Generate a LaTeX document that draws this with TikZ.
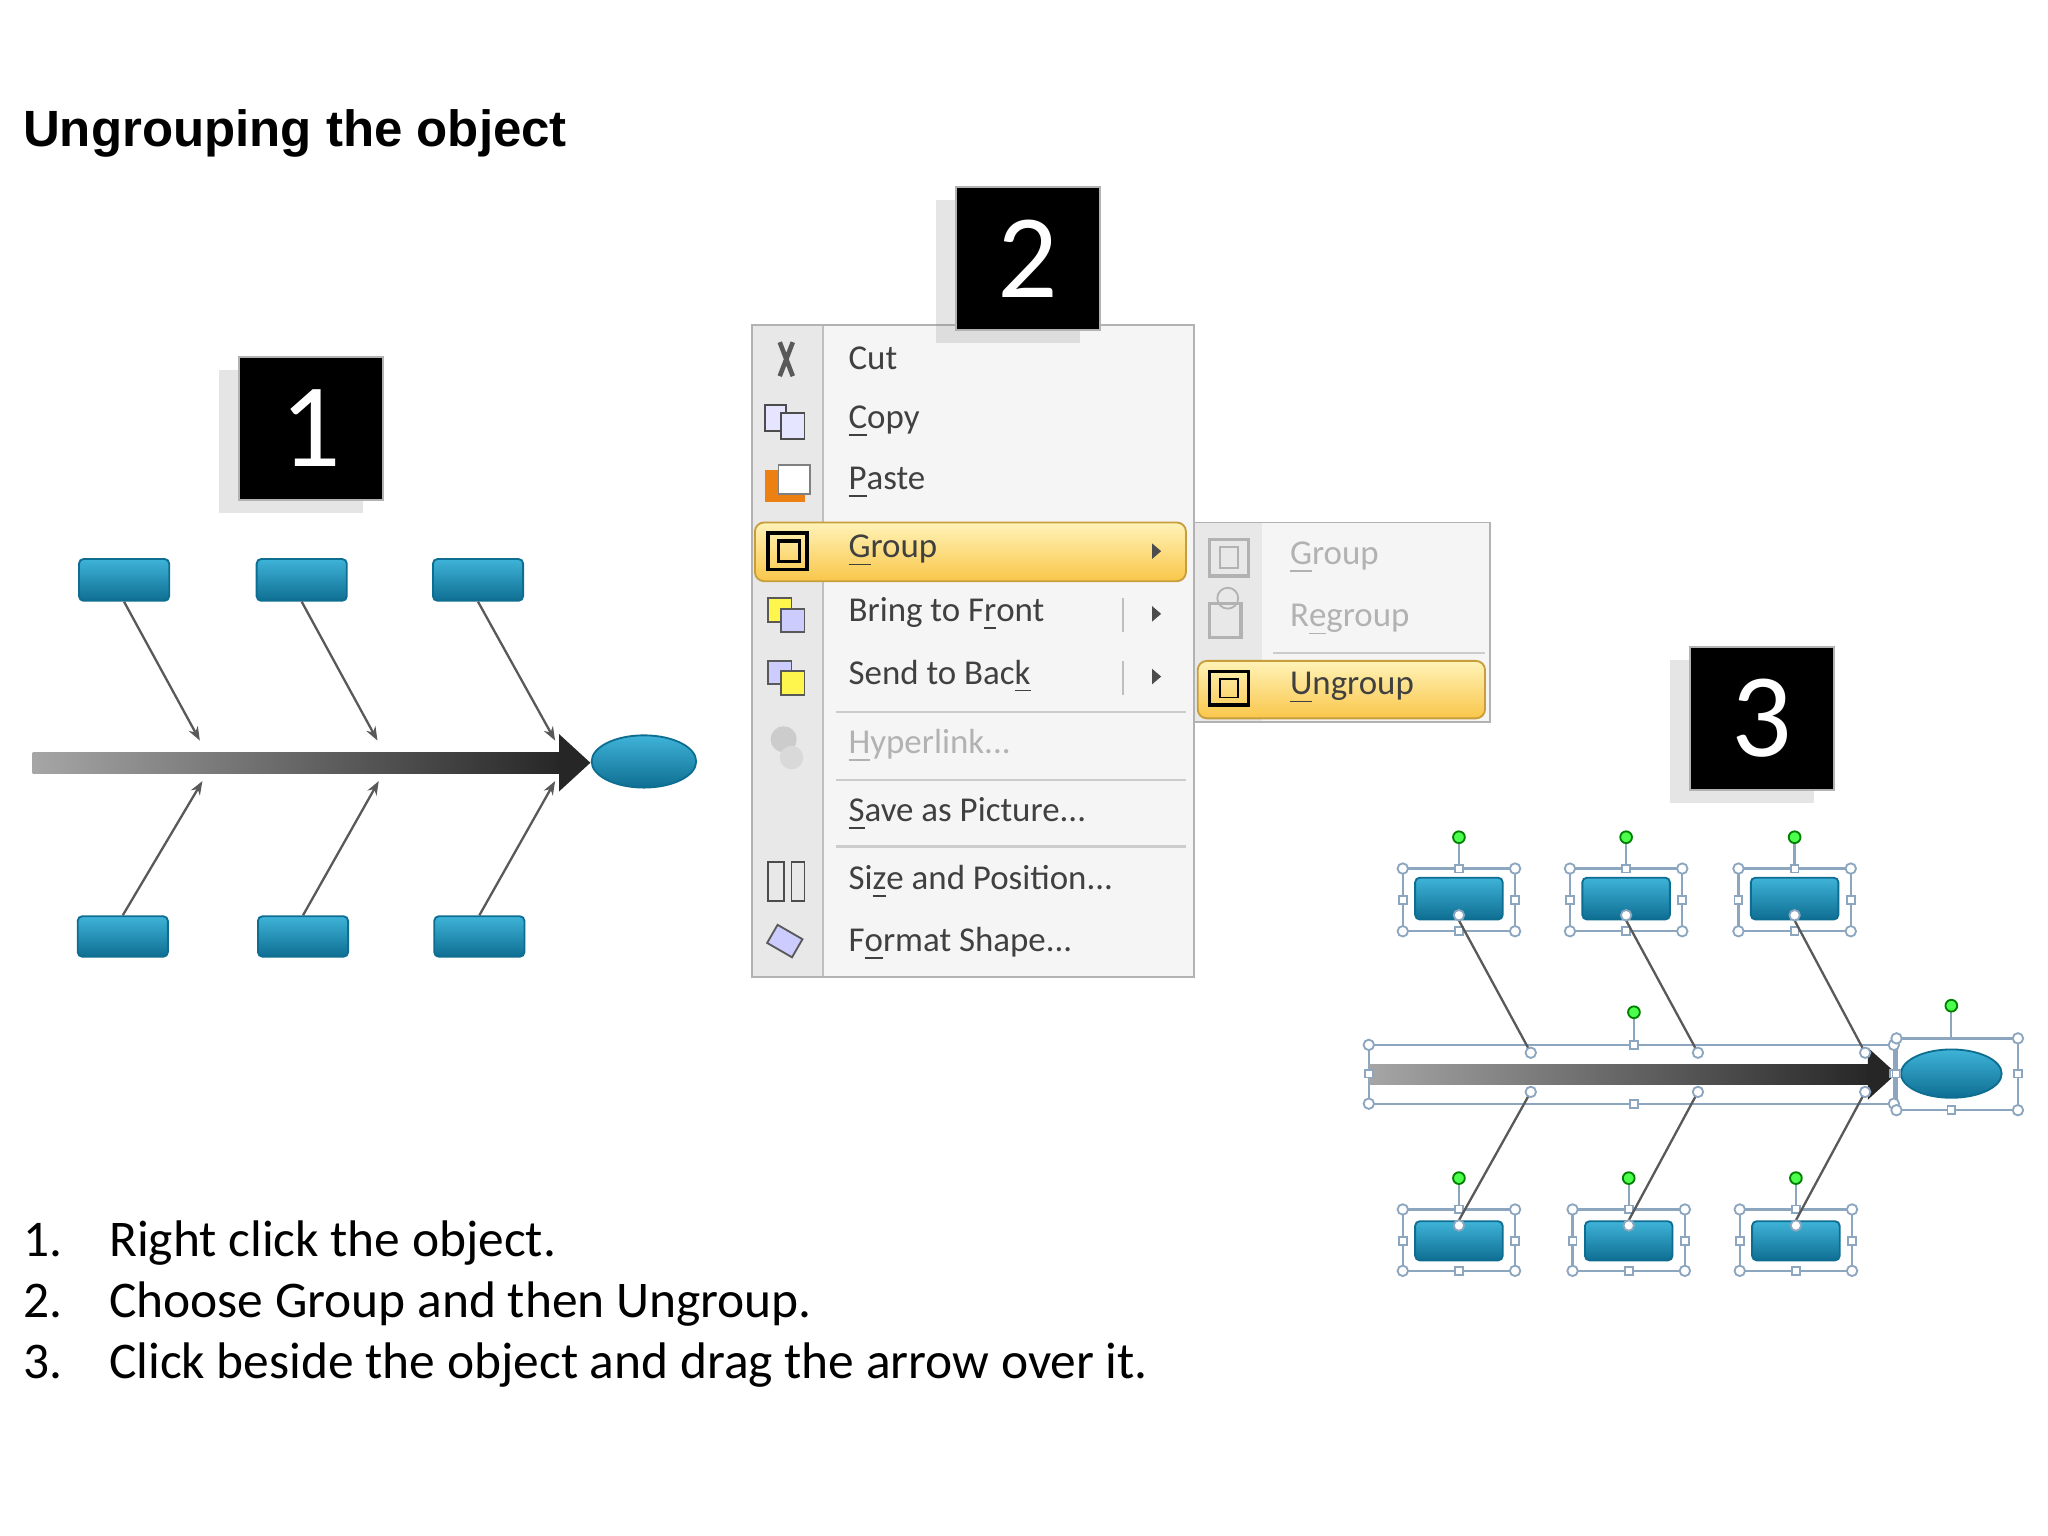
\documentclass[tikz,border=0pt]{standalone}
\usepackage{fontspec}
\setmainfont{Carlito}
\newfontfamily\hv{Liberation Sans}
\usetikzlibrary{shadows,arrows.meta,shapes.geometric}
\definecolor{boxtop}{HTML}{3FB3D8}
\definecolor{boxbot}{HTML}{0E6E92}
\definecolor{hi1}{HTML}{FFF3B8}
\definecolor{hi2}{HTML}{F9C64A}
\definecolor{selc}{HTML}{8CA6C0}
\tikzset{
 numbox/.style={fill=black,draw=gray!60,text=white,minimum width=1.1cm,minimum height=1.09cm,font=\fontsize{26}{26}\selectfont,inner sep=0,drop shadow={shadow xshift=-0.15cm,shadow yshift=-0.1cm,opacity=0.2,fill=gray}},
 bluebox/.style={draw=boxbot,rounded corners=1pt,top color=boxtop,bottom color=boxbot,inner sep=0},
 fline/.style={draw=gray!70!black,line width=0.5pt,-{Stealth[length=3pt]}},
 mitem/.style={anchor=west,font=\fontsize{7.6}{9}\selectfont,text=black!75,inner sep=0},
 gitem/.style={mitem,text=gray!60},
 sel/.style={draw=selc,line width=0.5pt},
 hd/.style={draw=selc,fill=white,line width=0.4pt,inner sep=0,minimum size=0.06cm},
 hdc/.style={circle,draw=selc,fill=white,line width=0.4pt,inner sep=0,minimum size=0.08cm},
 grn/.style={circle,draw=green!50!black,fill=green!70,inner sep=0,minimum size=0.09cm},
 sep/.style={draw=gray!40,line width=0.5pt},
}
\begin{document}
\begin{tikzpicture}[x=0.01cm,y=-0.01cm]
\useasboundingbox (0,0) rectangle (1568,1176);
\fill[white] (0,0) rectangle (1568,1176);
\node[anchor=west,inner sep=0,font=\hv\bfseries\fontsize{11.1}{13}\selectfont] (title) at (17,102) {Ungrouping the object};
% ---------- fishbone 1
\shade[left color=gray!70,right color=black!85] (25,576) rectangle (430,592);
\fill[black!85] (428,562) -- (452,584) -- (428,606) -- cycle;
\node[ellipse,minimum width=0.8cm,minimum height=0.4cm,top color=boxtop,bottom color=boxbot,draw=boxbot,inner sep=0] (e1) at (493,583) {};
\foreach \n/\x in {a/95,b/231,c/366}{
 \node[bluebox,minimum width=0.69cm,minimum height=0.32cm] (t\n) at (\x,444) {};}
\foreach \n/\x in {a/94,b/232,c/367}{
 \node[bluebox,minimum width=0.69cm,minimum height=0.31cm] (b\n) at (\x,717) {};}
\coordinate (ta1) at (153,567); \coordinate (tb1) at (289,567); \coordinate (tc1) at (425,567);
\coordinate (ba1) at (155,598); \coordinate (bb1) at (290,598); \coordinate (bc1) at (425,598);
\draw[fline] (ta.south) -- (ta1); \draw[fline] (tb.south) -- (tb1); \draw[fline] (tc.south) -- (tc1);
\draw[fline] (ba.north) -- (ba1); \draw[fline] (bb.north) -- (bb1); \draw[fline] (bc.north) -- (bc1);
\node[numbox] (n1) at (238,328) {1};
% ---------- menu
\fill[gray!8] (576,249) rectangle (914,748);
\fill[gray!18] (576,249) rectangle (630,748);
\draw[gray!50] (630,249) -- (630,748);
\draw[gray!60] (576,249) rectangle (914,748);
\shade[top color=hi1,bottom color=hi2,draw=hi2!80!black,rounded corners=2pt] (578,400) rectangle (908,445);
\node[numbox] (n2) at (787,198) {2};
\node[mitem] (m1) at (649,274) {Cut};
\node[mitem] (m2) at (649,323) {\underline{C}opy};
\node[mitem] (m3) at (649,370) {\underline{P}aste};
\node[mitem] (m4) at (649,422) {\underline{G}roup};
\node[mitem] (m5) at (649,470) {Bring to F\underline{r}ont};
\node[mitem] (m6) at (649,518) {Send to Bac\underline{k}};
\node[gitem] (m7) at (649,571) {\underline{H}yperlink...};
\node[mitem] (m8) at (649,623) {\underline{S}ave as Picture...};
\node[mitem] (m9) at (649,675) {Si\underline{z}e and Position...};
\node[mitem] (m10) at (649,723) {F\underline{o}rmat Shape...};
\foreach \y in {422,470,518} \fill[black!70] (882,\y-6) -- (889,\y) -- (882,\y+6) -- cycle;
\draw[gray!50] (860,458) -- (860,484); \draw[gray!50] (860,506) -- (860,532);
\draw[sep] (640,545) -- (908,545); \draw[sep] (640,597) -- (908,597); \draw[sep] (640,648) -- (908,648);
% icons
\draw[gray!70!black,line width=1pt] (597,262) -- (607,288) (607,262) -- (597,288);
\draw[gray!60!black,fill=blue!10] (586,310) rectangle (602,330); \draw[gray!60!black,fill=blue!10] (598,316) rectangle (616,336);
\fill[orange!70!brown] (586,360) rectangle (616,384); \fill[white,draw=gray] (596,356) rectangle (620,378);
\draw[black,line width=0.8pt] (588,408) rectangle (618,436); \draw[black,line width=0.8pt] (596,414) rectangle (612,430);
\draw[gray!70!black,fill=yellow!70] (588,458) rectangle (606,476); \draw[gray!70!black,fill=blue!20] (598,466) rectangle (616,484);
\draw[gray!70!black,fill=blue!20] (588,506) rectangle (606,524); \draw[gray!70!black,fill=yellow!70] (598,514) rectangle (616,532);
\fill[gray!40] (600,566) circle (10); \fill[gray!30] (606,580) circle (9);
\draw[black!70] (588,660) rectangle (600,690); \draw[black!70] (606,660) rectangle (616,690);
\draw[gray!70!black,fill=blue!20,rotate around={-30:(600,720)}] (590,712) rectangle (612,728);
% submenu
\fill[gray!8] (914,400) rectangle (1141,553);
\fill[gray!18] (914,400) rectangle (966,553);
\draw[gray!60] (914,400) rectangle (1141,553);
\shade[top color=hi1,bottom color=hi2,draw=hi2!80!black,rounded corners=2pt] (917,506) rectangle (1137,550);
\draw[sep] (975,500) -- (1137,500);
\node[gitem] (s1) at (987,427) {\underline{G}roup};
\node[gitem] (s2) at (987,475) {R\underline{e}group};
\node[mitem] (s3) at (987,527) {\underline{U}ngroup};
\draw[gray!60,line width=0.8pt] (926,413) rectangle (956,441); \draw[gray!60] (934,419) rectangle (948,435);
\draw[gray!60,line width=0.8pt] (926,462) rectangle (950,488); \draw[gray!60] (940,458) circle (8);
\draw[black,line width=0.8pt] (926,514) rectangle (956,540); \draw[black] (934,520) rectangle (948,534);
% ---------- fishbone 3
\node[numbox] (n3) at (1349,550) {3};
\draw[sel] (1048,800) rectangle (1450,845);
\shade[left color=gray!70,right color=black!85] (1048,815) rectangle (1432,830);
\fill[black!85] (1430,802) -- (1452,822) -- (1430,842) -- cycle;
\draw[sel] (1452,795) rectangle (1545,850);
\node[ellipse,minimum width=0.77cm,minimum height=0.37cm,top color=boxtop,bottom color=boxbot,draw=boxbot,inner sep=0] (e3) at (1494,822) {};
\draw[sel] (1251,775) -- (1251,800); \node[grn] (g0) at (1251,775) {};
\draw[sel] (1494,770) -- (1494,795); \node[grn] (g00) at (1494,770) {};
\foreach \x in {1048,1450} {\node[hdc] at (\x,800) {}; \node[hdc] at (\x,845) {}; \node[hd] at (\x,822) {};}
\node[hd] at (1251,800) {}; \node[hd] at (1251,845) {};
\foreach \x in {1452,1545} {\node[hdc] at (\x,795) {}; \node[hdc] at (\x,850) {}; \node[hd] at (\x,822) {};}
\node[hd] at (1494,850) {};
\foreach \n/\x in {p/1117,q/1245,r/1374}{
 \draw[sel] (\x-43,665) rectangle (\x+43,713);
 \draw[sel] (\x,641) -- (\x,665); \node[grn] at (\x,641) {};
 \foreach \cx in {-43,43}{\node[hdc] at (\x+\cx,665) {}; \node[hdc] at (\x+\cx,713) {}; \node[hd] at (\x+\cx,689) {};}
 \node[hd] at (\x,665) {};
 \node[bluebox,minimum width=0.67cm,minimum height=0.32cm] (t\n) at (\x,688) {};
 \node[hd] at (\x,713) {};}
\foreach \n/\x in {u/1117,v/1247,w/1375}{
 \draw[sel] (\x-43,926) rectangle (\x+43,973);
 \draw[sel] (\x,902) -- (\x,926); \node[grn] at (\x,902) {};
 \foreach \cx in {-43,43}{\node[hdc] at (\x+\cx,926) {}; \node[hdc] at (\x+\cx,973) {}; \node[hd] at (\x+\cx,950) {};}
 \node[hd] at (\x,926) {}; \node[hd] at (\x,973) {};
 \node[bluebox,minimum width=0.67cm,minimum height=0.3cm] (b\n) at (\x,950) {};}
\coordinate (tp3) at (1172,806); \coordinate (tq3) at (1300,806); \coordinate (tr3) at (1428,806);
\coordinate (bu3) at (1172,836); \coordinate (bv3) at (1300,836); \coordinate (bw3) at (1428,836);
\draw[gray!70!black,line width=0.5pt] (tp.south) -- (tp3); \draw[gray!70!black,line width=0.5pt] (tq.south) -- (tq3); \draw[gray!70!black,line width=0.5pt] (tr.south) -- (tr3);
\draw[gray!70!black,line width=0.5pt] (bu.north) -- (bu3); \draw[gray!70!black,line width=0.5pt] (bv.north) -- (bv3); \draw[gray!70!black,line width=0.5pt] (bw.north) -- (bw3);
\foreach \c in {tp3,tq3,tr3,bu3,bv3,bw3} \node[hdc] at (\c) {};
\foreach \c in {tp,tq,tr} \node[hdc] at ([yshift=0.04cm]\c.south) {};
\foreach \c in {bu,bv,bw} \node[hdc] at ([yshift=-0.04cm]\c.north) {};
% ---------- steps
\node[anchor=north west,align=left,font=\fontsize{11.2}{13.3}\selectfont,inner sep=0] (steps) at (17,934) {%
1.\hspace{0.36cm}Right click the object.\\
2.\hspace{0.36cm}Choose Group and then Ungroup.\\
3.\hspace{0.36cm}Click beside the object and drag the arrow over it.};
\end{tikzpicture}
\end{document}
